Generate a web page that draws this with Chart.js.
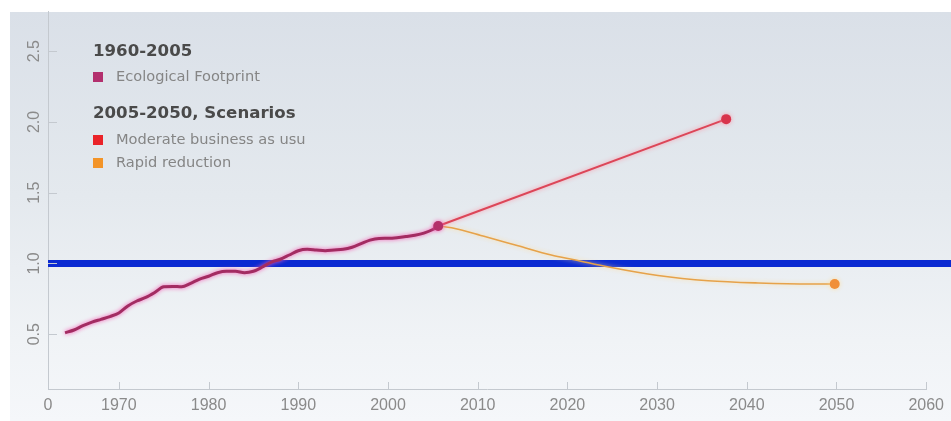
<!DOCTYPE html>
<html>
<head>
<meta charset="utf-8">
<script src="https://cdn.jsdelivr.net/npm/chart.js@4/dist/chart.umd.min.js"></script>
<style>
  body { margin: 0; background: #fff; }
  #wrap { position: relative; width: 951px; height: 421px; overflow: hidden; }
  #panel {
    position: absolute; left: 10px; top: 12px; right: 0; bottom: 0;
    background: linear-gradient(to bottom, #dae0e8 0%, #e4e9ee 45%, #f0f3f6 80%, #f5f7fa 100%);
  }
  #chart { position: absolute; left: 0; top: 0; }
  .lg { position: absolute; font-family: "DejaVu Sans", sans-serif; white-space: nowrap; }
  .lg.head { font-weight: bold; font-size: 16.6px; color: #4a4a4a; }
  .lg.item { font-size: 14.6px; color: #858585; }
  .sw { position: absolute; width: 10px; height: 10px; }
</style>
</head>
<body>
<div id="wrap">
  <div id="panel"></div>
  <canvas id="chart" width="951" height="421"></canvas>
  <div class="lg head" style="left:93px;top:41px">1960-2005</div>
  <div class="sw" style="left:93px;top:72px;background:#b3306e"></div>
  <div class="lg item" style="left:116px;top:67px">Ecological Footprint</div>
  <div class="lg head" style="left:93px;top:103px">2005-2050, Scenarios</div>
  <div class="sw" style="left:93px;top:135px;background:#ea2329"></div>
  <div class="lg item" style="left:116px;top:130px">Moderate business as usu</div>
  <div class="sw" style="left:93px;top:158px;background:#f39428"></div>
  <div class="lg item" style="left:116px;top:153px">Rapid reduction</div>
</div>
<script>
// values
const footprintYears = [1964, 1965, 1966, 1967, 1968, 1969, 1970, 1971, 1972, 1973, 1974, 1975, 1976, 1977, 1978, 1979, 1980, 1981, 1982, 1983, 1984, 1985, 1986, 1987, 1988, 1989, 1990, 1991, 1992, 1993, 1994, 1995, 1996, 1997, 1998, 1999, 2000, 2001, 2002, 2003, 2004, 2005, 2005.6];
const footprintValues = [0.51, 0.53, 0.56, 0.585, 0.605, 0.625, 0.65, 0.70, 0.735, 0.76, 0.795, 0.835, 0.838, 0.835, 0.86, 0.89, 0.91, 0.935, 0.945, 0.945, 0.935, 0.945, 0.975, 1.01, 1.03, 1.06, 1.09, 1.10, 1.095, 1.09, 1.095, 1.10, 1.115, 1.14, 1.165, 1.177, 1.178, 1.182, 1.19, 1.20, 1.215, 1.24, 1.265];

const moderateYears = [2005.6, 2037.7];
const moderateValues = [1.265, 2.02];

const rapidYears = [2005.6, 2007.1, 2010.8, 2014.5, 2018.2, 2020.9, 2024.6, 2030.1, 2035.7, 2041.3, 2047.2, 2049.8];
const rapidValues = [1.265, 1.252, 1.19, 1.125, 1.06, 1.025, 0.975, 0.915, 0.878, 0.862, 0.855, 0.855];

const referenceYears = [1962.1, 2062.8];
const referenceValues = [1.0, 1.0];

const xTickValues = [1962.1, 1970, 1980, 1990, 2000, 2010, 2020, 2030, 2040, 2050, 2060];
const xTickLabels = ['0', '1970', '1980', '1990', '2000', '2010', '2020', '2030', '2040', '2050', '2060'];
const yTickValues = [0.5, 1.0, 1.5, 2.0, 2.5];
const yTickLabels = ['0.5', '1.0', '1.5', '2.0', '2.5'];

function toPoints(xs, ys) {
    return xs.map((x, i) => ({x: x, y: ys[i]}));
}

function lastOnly(len, r) {
    let arr = new Array(len).fill(0);
    arr[len - 1] = r;
    return arr;
}

// small inward tick marks like the original
const innerTicks = {
    id: 'innerTicks',
    afterDraw: function (chart) {
        const ctx = chart.ctx, xs = chart.scales.x, ys = chart.scales.y;
        ctx.save();
        ctx.strokeStyle = '#c4c9cf';
        ctx.lineWidth = 1;
        ctx.beginPath();
        xTickValues.slice(1).forEach(v => {
            let px = Math.round(xs.getPixelForValue(v)) + 0.5;
            ctx.moveTo(px, ys.bottom);
            ctx.lineTo(px, ys.bottom - 7);
        });
        yTickValues.forEach(v => {
            let py = Math.round(ys.getPixelForValue(v)) + 0.5;
            ctx.moveTo(xs.left, py);
            ctx.lineTo(xs.left + 9, py);
        });
        ctx.stroke();
        ctx.restore();
    }
};

// soft glow under the lines
const glow = {
    id: 'glow',
    beforeDatasetDraw: function (chart, args) {
        const g = chart.data.datasets[args.index].glow;
        if (!g) return;
        chart.ctx.save();
        chart.ctx.shadowColor = g;
        chart.ctx.shadowBlur = 4;
    },
    afterDatasetDraw: function (chart, args) {
        if (chart.data.datasets[args.index].glow) chart.ctx.restore();
    }
};

const tickFont = {family: '"Liberation Sans", sans-serif', size: 16};

new Chart(document.getElementById('chart'), {
    type: 'line',
    data: {
        datasets: [
            {
                label: 'Reference',
                data: toPoints(referenceYears, referenceValues),
                borderColor: '#0a2ad2',
                borderWidth: 7,
                pointRadius: 0,
                clip: false,
                order: 4
            },
            {
                label: 'Rapid reduction',
                data: toPoints(rapidYears, rapidValues),
                borderColor: '#e6a24a',
                borderWidth: 1.6,
                cubicInterpolationMode: 'monotone',
                pointRadius: lastOnly(rapidYears.length, 5),
                pointBackgroundColor: '#f0903a',
                pointBorderWidth: 0,
                glow: 'rgba(255,220,150,0.9)',
                order: 3
            },
            {
                label: 'Moderate business as usual',
                data: toPoints(moderateYears, moderateValues),
                borderColor: '#dc4658',
                borderWidth: 2,
                pointRadius: lastOnly(moderateYears.length, 5),
                pointBackgroundColor: '#d8344c',
                pointBorderWidth: 0,
                glow: 'rgba(255,140,160,0.9)',
                order: 2
            },
            {
                label: 'Ecological Footprint',
                data: toPoints(footprintYears, footprintValues),
                borderColor: '#a32c62',
                borderWidth: 3,
                cubicInterpolationMode: 'monotone',
                pointRadius: lastOnly(footprintYears.length, 5),
                pointBackgroundColor: '#b3306a',
                pointBorderWidth: 0,
                glow: 'rgba(245,90,180,1)',
                order: 1
            }
        ]
    },
    options: {
        responsive: false,
        animation: false,
        events: [],
        layout: {padding: {top: 10, right: 23, left: 0, bottom: 0}},
        plugins: {legend: {display: false}, tooltip: {enabled: false}},
        scales: {
            x: {
                type: 'linear',
                min: xTickValues[0],
                max: 2060,
                afterFit: s => { s.height = 32; },
                afterBuildTicks: s => { s.ticks = xTickValues.map(v => ({value: v})); },
                grid: {display: false, drawTicks: false},
                border: {color: '#c4c9cf', width: 1},
                ticks: {
                    padding: 7,
                    autoSkip: false,
                    maxRotation: 0,
                    color: '#8a8a8a',
                    font: tickFont,
                    callback: (v, i) => xTickLabels[i]
                }
            },
            y: {
                min: 0.113,
                max: 2.78,
                afterFit: s => { s.width = 48; },
                afterBuildTicks: s => { s.ticks = yTickValues.map(v => ({value: v})); },
                grid: {display: false, drawTicks: false},
                border: {color: '#c4c9cf', width: 1},
                ticks: {
                    padding: 2,
                    minRotation: 90,
                    maxRotation: 90,
                    crossAlign: 'center',
                    color: '#8a8a8a',
                    font: tickFont,
                    callback: (v, i) => yTickLabels[i]
                }
            }
        }
    },
    plugins: [innerTicks, glow]
});
</script>
</body>
</html>
